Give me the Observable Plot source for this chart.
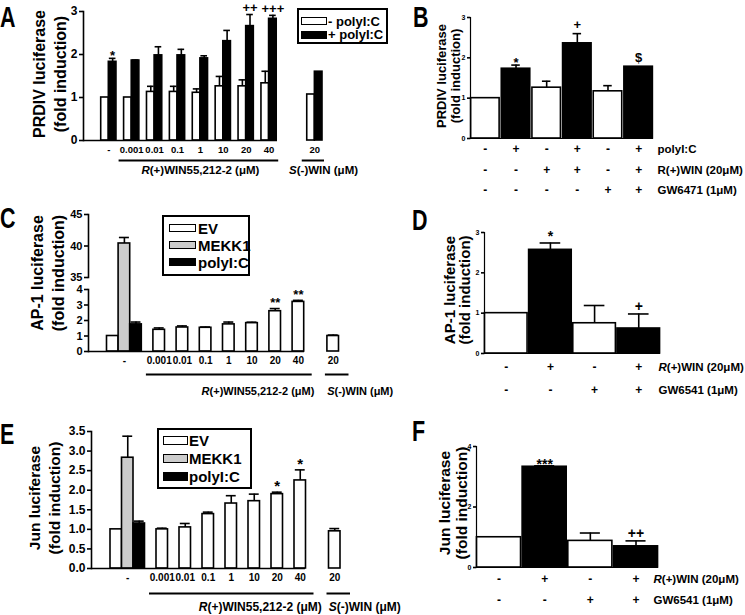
<!DOCTYPE html>
<html><head><meta charset="utf-8">
<script src="https://cdn.jsdelivr.net/npm/d3@7"></script>
<script src="https://cdn.jsdelivr.net/npm/@observablehq/plot@0.6"></script>
<style>
html,body{margin:0;padding:0;background:#fff;}
#fig{position:relative;width:745px;height:615px;overflow:hidden;background:#fff;font-family:'Liberation Sans',Arial,Helvetica,sans-serif;color:#000;}
.letter{position:absolute;font-weight:bold;font-size:29px;line-height:30px;transform:scaleX(0.74);transform-origin:0 0;}
.legend{position:absolute;border:2px solid #000;box-sizing:border-box;background:#fff;}
.legend .sw{position:absolute;border:1.5px solid #000;box-sizing:border-box;}
.legend .lb{position:absolute;font-weight:bold;white-space:nowrap;}
</style></head><body><div id="fig"></div>
<script>
// ================= DATA =================
// Panel A – PRDIV luciferase, R(+)WIN55,212-2 dose response
const A_doses = ["-", "0.001", "0.01", "0.1", "1", "10", "20", "40"];
const A_series = ["- polyI:C", "+ polyI:C"];
const A_minus = [1.00, 1.00, 1.13, 1.13, 1.11, 1.26, 1.26, 1.33];
const A_minusSem = [0, 0, 0.13, 0.13, 0.09, 0.23, 0.15, 0.28];
const A_plus = [1.83, 1.86, 1.98, 1.98, 1.91, 2.31, 2.66, 2.83];
const A_plusSem = [0.08, 0.01, 0.20, 0.14, 0.06, 0.25, 0.27, 0.08];
const A_plusSig = ["*", "", "", "", "", "", "++", "+++"];
const A_sDose = "20";
const A_sMinus = 1.07, A_sPlus = 1.60;
const A_ticks = [0, 1, 2, 3];

// Panel B – PRDIV luciferase with GW6471
const B_polyIC = ["-", "+", "-", "+", "-", "+"];
const B_win = ["-", "-", "+", "+", "-", "+"];
const B_gw = ["-", "-", "-", "-", "+", "+"];
const B_values = [1.00, 1.73, 1.26, 2.36, 1.17, 1.78];
const B_sem = [0, 0.09, 0.16, 0.24, 0.14, 0];
const B_sig = ["", "*", "", "+", "", "$"];
const B_rowLabels = ["polyI:C", "R(+)WIN (20μM)", "GW6471 (1μM)"];
const B_ticks = [0, 1, 2, 3];

// Panel C – AP-1 luciferase
const C_treat = ["EV", "MEKK1", "polyI:C"];
const C_ctrl = [1.00, 40.4, 1.75];
const C_ctrlSem = [0, 0.95, 0.15];
const C_doses = ["0.001", "0.01", "0.1", "1", "10", "20", "40"];
const C_dose = [1.40, 1.55, 1.53, 1.75, 1.83, 2.60, 3.20];
const C_doseSem = [0.12, 0.10, 0.05, 0.15, 0.06, 0.17, 0.10];
const C_doseSig = ["", "", "", "", "", "**", "**"];
const C_sDose = "20", C_s = 1.00, C_sSem = 0.06;
const C_ticks = [0, 1, 2, 3, 4, 35, 40, 45];
const C_yDomain = [0, 4, 35, 45];

// Panel D – AP-1 luciferase with GW6541
const D_win = ["-", "+", "-", "+"];
const D_gw = ["-", "-", "+", "+"];
const D_values = [1.00, 2.57, 0.75, 0.62];
const D_sem = [0, 0.17, 0.44, 0.36];
const D_sig = ["", "*", "", "+"];
const D_rowLabels = ["R(+)WIN (20μM)", "GW6541 (1μM)"];
const D_ticks = [0, 1, 2, 3];

// Panel E – Jun luciferase
const E_treat = ["EV", "MEKK1", "polyI:C"];
const E_ctrl = [1.00, 2.83, 1.15];
const E_ctrlSem = [0, 0.55, 0.06];
const E_doses = ["0.001", "0.01", "0.1", "1", "10", "20", "40"];
const E_dose = [1.00, 1.05, 1.39, 1.66, 1.72, 1.90, 2.25];
const E_doseSem = [0.03, 0.10, 0.05, 0.20, 0.18, 0.05, 0.27];
const E_doseSig = ["", "", "", "", "", "*", "*"];
const E_sDose = "20", E_s = 0.95, E_sSem = 0.07;
const E_ticks = [0, 0.5, 1, 1.5, 2, 2.5, 3, 3.5];

// Panel F – Jun luciferase with GW6541
const F_win = ["-", "+", "-", "+"];
const F_gw = ["-", "-", "+", "+"];
const F_values = [1.00, 3.33, 0.88, 0.70];
const F_sem = [0, 0.03, 0.26, 0.18];
const F_sig = ["", "***", "", "++"];
const F_rowLabels = ["R(+)WIN (20μM)", "GW6541 (1μM)"];
const F_ticks = [0, 2, 4];

const R_label = "R(+)WIN55,212-2 (μM)";
const S_label = "S(-)WIN (μM)";

// ================= HELPERS =================
const FONT = "'Liberation Sans', Arial, Helvetica, sans-serif";
const fig = document.getElementById("fig");
const SVGNS = "http://www.w3.org/2000/svg";
const SW = 1.6;
const INT = d3.format("d");

function place(node, left, top) {
  const d = document.createElement("div");
  d.style.position = "absolute"; d.style.left = left + "px"; d.style.top = top + "px";
  d.appendChild(node); fig.appendChild(d); return d;
}
function italicFirst(svg, list) {
  svg.querySelectorAll("text").forEach(t => {
    if (t.childElementCount === 0 && list.includes(t.textContent)) {
      const s = t.textContent; t.textContent = "";
      const a = document.createElementNS(SVGNS, "tspan"); a.setAttribute("font-style", "italic"); a.textContent = s[0];
      const b = document.createElementNS(SVGNS, "tspan"); b.textContent = s.slice(1);
      t.append(a, b);
    }
  });
}
function style() { return {fontFamily: FONT, fontWeight: "bold", background: "transparent", overflow: "visible", color: "black"}; }
function errMarks(rows, capInset) {
  const e = rows.filter(d => d.sem > 0);
  return [
    Plot.ruleX(e, {x: "key", y1: "value", y2: d => d.value + d.sem, stroke: "black", strokeWidth: SW}),
    Plot.tickY(e, {x: "key", y: d => d.value + d.sem, stroke: "black", strokeWidth: SW, insetLeft: capInset, insetRight: capInset})
  ];
}
// significance marks: asterisks sit high in the em box, so they get their own offset
function sigMarks(rows, fontSize, offStar, offPlus) {
  const star = rows.filter(d => d.sig && d.sig[0] === "*");
  const other = rows.filter(d => d.sig && d.sig[0] !== "*");
  return [
    Plot.text(star, {x: "key", y: d => d.value + d.sem, text: "sig", lineAnchor: "middle", dy: -offStar + 0.23 * fontSize, fontSize, fill: "black"}),
    Plot.text(other, {x: "key", y: d => d.value + d.sem, text: "sig", lineAnchor: "middle", dy: -offPlus, fontSize, fill: "black"})
  ];
}
function yTitle(text, fontSize, lineHeight, dx, dy) {
  return Plot.text([text], {text: d => d, frameAnchor: "left", rotate: -90, textAnchor: "middle", lineAnchor: "middle", fontSize, lineHeight, dx, dy, fill: "black"});
}
function yAxis(ticks, fontSize, tickSize, tickFormat) {
  return Plot.axisY({ticks, tickSize, tickPadding: 2, fontSize, label: null, strokeWidth: SW, tickFormat: tickFormat || INT});
}
function legend(left, top, w, h, labels, fills, o) {
  const box = document.createElement("div");
  box.className = "legend";
  Object.assign(box.style, {left: left + "px", top: top + "px", width: w + "px", height: h + "px"});
  labels.forEach((lab, i) => {
    const sw = document.createElement("div"); sw.className = "sw";
    Object.assign(sw.style, {left: o.swL + "px", top: (o.rows[i] - o.swH / 2) + "px", width: o.swW + "px", height: o.swH + "px", background: fills[i]});
    const lb = document.createElement("div"); lb.className = "lb"; lb.textContent = lab;
    Object.assign(lb.style, {left: o.txtL + "px", top: (o.rows[i] - o.fs * 0.5) + "px", fontSize: o.fs + "px", lineHeight: o.fs + "px"});
    box.append(sw, lb);
  });
  fig.appendChild(box);
}
function letter(ch, left, top) {
  const d = document.createElement("div"); d.className = "letter"; d.textContent = ch;
  d.style.left = left + "px"; d.style.top = top + "px"; fig.appendChild(d);
}

// ================= PANEL A =================
{
  const sKey = "S" + A_sDose;
  const keys = [];
  A_doses.forEach(d => keys.push(d + "|w", d + "|b", d + "|_"));
  keys.push("gap1", "gap2", "gap3", sKey + "|w", sKey + "|b");
  const rows = [];
  A_doses.forEach((d, i) => {
    rows.push({key: d + "|w", series: A_series[0], value: A_minus[i], sem: A_minusSem[i], sig: ""});
    rows.push({key: d + "|b", series: A_series[1], value: A_plus[i], sem: A_plusSem[i], sig: A_plusSig[i]});
  });
  rows.push({key: sKey + "|w", series: A_series[0], value: A_sMinus, sem: 0, sig: ""});
  rows.push({key: sKey + "|b", series: A_series[1], value: A_sPlus, sem: 0, sig: ""});
  const xr = [100.7, 322];
  const bw = (xr[1] - xr[0]) / keys.length;
  const labels = A_doses.map(d => ({k: d + "|b", t: d})).concat([{k: sKey + "|b", t: A_sDose}]);
  const svg = Plot.plot({
    width: 390, height: 200, marginLeft: 83, marginTop: 11, marginBottom: 60, marginRight: 113,
    style: style(),
    x: {type: "band", domain: keys, range: xr, paddingInner: 0, paddingOuter: 0, round: false, axis: null},
    y: {domain: [0, 3]},
    color: {type: "ordinal", domain: A_series, range: ["white", "black"]},
    marks: [
      Plot.barY(rows, {x: "key", y: "value", fill: "series", stroke: "black", strokeWidth: SW}),
      ...errMarks(rows, 0.5),
      ...sigMarks(rows, 13, 5.5, 6.5),
      Plot.frame({anchor: "left", strokeWidth: SW}),
      Plot.ruleY([0], {strokeWidth: SW}),
      yAxis(A_ticks, 12, 4),
      Plot.text(labels, {x: "k", text: "t", dx: -bw / 2, frameAnchor: "bottom", dy: 12, fontSize: 9.5}),
      Plot.ruleY([{a: "0.001|w", b: "40|b"}, {a: sKey + "|w", b: sKey + "|b"}], {y: () => 0, x1: "a", x2: "b", dy: 20, insetLeft: -5, insetRight: -2, strokeWidth: 2}),
      Plot.text([R_label], {x: () => "1|b", dx: -bw / 2, frameAnchor: "bottom", dy: 33, fontSize: 11.5}),
      Plot.text([S_label], {x: () => sKey + "|w", dx: -22, textAnchor: "start", frameAnchor: "bottom", dy: 33, fontSize: 11.5}),
      yTitle("PRDIV luciferase\n(fold induction)", 16, 1.35, -35, -2)
    ]
  });
  italicFirst(svg, [R_label, S_label]);
  place(svg, 0, 0);
  legend(297, 8, 91, 36, A_series, ["white", "black"], {rows: [11, 24.5], swL: 2, swW: 26, swH: 8, txtL: 29, fs: 13});
  letter("A", 0, 2);
}

// ================= PANEL B =================
{
  const ids = B_polyIC.map((p, i) => p + B_win[i] + B_gw[i]);
  const rows = ids.map((k, i) => ({key: k, poly: B_polyIC[i], value: B_values[i], sem: B_sem[i], sig: B_sig[i]}));
  const signRows = [B_polyIC, B_win, B_gw];
  const rowDy = [14, 35, 55];
  const marks = [
    Plot.barY(rows, {x: "key", y: "value", fill: "poly", stroke: "black", strokeWidth: SW}),
    ...errMarks(rows, 10),
    ...sigMarks(rows, 13, 5.6, 9),
    Plot.frame({anchor: "left", strokeWidth: 1.2}),
    Plot.ruleY([0], {strokeWidth: 1.2}),
    yAxis(B_ticks, 7, 3),
    yTitle("PRDIV luciferase\n(fold induction)", 13, 1.05, -22, -2)
  ];
  signRows.forEach((sr, r) => {
    marks.push(Plot.text(sr, {x: (d, j) => ids[j], text: d => d, frameAnchor: "bottom", dy: rowDy[r], fontSize: 12}));
    marks.push(Plot.text([B_rowLabels[r]], {text: d => d, frameAnchor: "bottom-right", textAnchor: "start", dx: 4, dy: rowDy[r], fontSize: 11.5}));
  });
  const svg = Plot.plot({
    width: 355, height: 200, marginLeft: 80, marginTop: 17, marginBottom: 62, marginRight: 92,
    style: style(),
    x: {type: "band", domain: ids, paddingInner: 0.07, paddingOuter: 0.02, round: false, axis: null},
    y: {domain: [0, 3]},
    color: {type: "ordinal", domain: ["-", "+"], range: ["white", "black"]},
    marks
  });
  place(svg, 390, 0);
  letter("B", 413, 2);
}

// ================= PANEL C / E builder =================
function doseResponse(cfg) {
  const sKey = "S" + cfg.sDose;
  const keys = cfg.treat.map(t => "-|" + t);
  keys.push("_a");
  cfg.doses.forEach(d => keys.push(d, "_" + d));
  keys.push("_b", sKey);
  const rows = cfg.treat.map((t, i) => ({key: "-|" + t, fill: t, value: cfg.ctrl[i], sem: cfg.ctrlSem[i], sig: ""}))
    .concat(cfg.doses.map((d, i) => ({key: d, fill: cfg.treat[0], value: cfg.dose[i], sem: cfg.doseSem[i], sig: cfg.doseSig[i]})))
    .concat([{key: sKey, fill: cfg.treat[0], value: cfg.s, sem: cfg.sSem, sig: ""}]);
  const labels = [{k: "-|" + cfg.treat[1], t: "-"}].concat(cfg.doses.map(d => ({k: d, t: d})), [{k: sKey, t: cfg.sDose}]);
  const frameMarks = cfg.yRange
    ? [Plot.frame({anchor: "left", strokeWidth: SW, insetTop: cfg.yRange[1] - cfg.yRange[3]}),
       Plot.frame({anchor: "left", strokeWidth: SW, insetBottom: cfg.yRange[0] - cfg.yRange[2]})]
    : [Plot.frame({anchor: "left", strokeWidth: SW})];
  const svg = Plot.plot({
    width: 390, height: cfg.height, marginLeft: cfg.ml, marginTop: cfg.mt, marginBottom: cfg.mb, marginRight: cfg.mr,
    style: style(),
    x: {type: "band", domain: keys, range: cfg.xr, paddingInner: 0, paddingOuter: 0, round: false, axis: null},
    y: cfg.yRange ? {type: "linear", domain: cfg.yDomain, range: cfg.yRange} : {domain: cfg.yDomain},
    color: {type: "ordinal", domain: cfg.treat, range: ["white", "#cccccc", "black"]},
    marks: [
      Plot.barY(rows, {x: "key", y: "value", fill: "fill", stroke: "black", strokeWidth: SW}),
      ...errMarks(rows, 0.8),
      ...sigMarks(rows, cfg.sigSize, cfg.sigOff, cfg.sigOff),
      ...frameMarks,
      Plot.ruleY([0], {strokeWidth: SW}),
      yAxis(cfg.ticks, cfg.tickSize, 4, cfg.tickFormat),
      Plot.text(labels, {x: "k", text: "t", frameAnchor: "bottom", dy: 12, fontSize: 10}),
      Plot.ruleY([{a: cfg.doses[0], b: cfg.doses[cfg.doses.length - 1]}], {y: () => 0, x1: "a", x2: "b", dy: cfg.ulDy, insetLeft: -7, insetRight: -8, strokeWidth: 2}),
      Plot.ruleY([{a: sKey, b: sKey}], {y: () => 0, x1: "a", x2: "b", dy: cfg.ulDy, insetLeft: -2, insetRight: -10, strokeWidth: 2}),
      Plot.text([R_label], {x: () => cfg.doses[4], dx: cfg.rDx, frameAnchor: "bottom", dy: cfg.glDy, fontSize: cfg.glSize}),
      Plot.text([S_label], {x: () => sKey, dx: -6, textAnchor: "start", frameAnchor: "bottom", dy: cfg.glDy, fontSize: cfg.glSize}),
      yTitle(cfg.title, cfg.titleSize, cfg.titleLH, cfg.titleDx, cfg.titleDy)
    ]
  });
  italicFirst(svg, [R_label, S_label]);
  return svg;
}

// ================= PANEL C =================
{
  const svg = doseResponse({
    treat: C_treat, ctrl: C_ctrl, ctrlSem: C_ctrlSem, doses: C_doses, dose: C_dose, doseSem: C_doseSem, doseSig: C_doseSig,
    sDose: C_sDose, s: C_s, sSem: C_sSem, ticks: C_ticks, yDomain: C_yDomain, yRange: [151, 89, 77, 14], tickSize: 11,
    height: 210, ml: 88, mt: 14, mb: 59, mr: 86, xr: [106.5, 338.5], sigSize: 13, sigOff: 9,
    ulDy: 23, glDy: 43, glSize: 11, rDx: 6,
    title: "AP-1 luciferase\n(fold induction)", titleSize: 16, titleLH: 1.35, titleDx: -42, titleDy: -10
  });
  place(svg, 0, 200);
  legend(162, 215, 88, 61, C_treat, ["white", "#cccccc", "black"], {rows: [11, 28, 45], swL: 5, swW: 27, swH: 8, txtL: 34, fs: 15});
  letter("C", 0, 203);
}

// ================= PANEL D / F builder =================
function inhibitorPanel(cfg) {
  const ids = cfg.win.map((w, i) => w + cfg.gw[i]);
  const rows = ids.map((k, i) => ({key: k, win: cfg.win[i], value: cfg.values[i], sem: cfg.sem[i], sig: cfg.sig[i]}));
  const signRows = [cfg.win, cfg.gw];
  const marks = [
    Plot.barY(rows, {x: "key", y: "value", fill: "win", stroke: "black", strokeWidth: SW}),
    ...errMarks(rows, cfg.capInset),
    ...sigMarks(rows, 14, cfg.offStar, cfg.offPlus),
    Plot.frame({anchor: "left", strokeWidth: 1.2}),
    Plot.ruleY([0], {strokeWidth: 1.2}),
    yAxis(cfg.ticks, 7, 3),
    yTitle(cfg.title, cfg.titleSize, cfg.titleLH, cfg.titleDx, cfg.titleDy)
  ];
  signRows.forEach((sr, r) => {
    marks.push(Plot.text(sr, {x: (d, j) => ids[j], text: d => d, frameAnchor: "bottom", dy: cfg.rowDy[r], fontSize: 12}));
    marks.push(Plot.text([cfg.rowLabels[r]], {text: d => d, frameAnchor: "bottom-right", textAnchor: "start", dx: cfg.labDx, dy: cfg.rowDy[r], fontSize: 11.5}));
  });
  const svg = Plot.plot({
    width: 355, height: cfg.height, marginLeft: cfg.ml, marginTop: cfg.mt, marginBottom: cfg.mb, marginRight: cfg.mr,
    style: style(),
    x: {type: "band", domain: ids, paddingInner: 0.035, paddingOuter: 0.01, round: false, axis: null},
    y: {domain: [0, cfg.ticks[cfg.ticks.length - 1]]},
    color: {type: "ordinal", domain: ["-", "+"], range: ["white", "black"]},
    marks
  });
  italicFirst(svg, [cfg.rowLabels[0]]);
  return svg;
}

// ================= PANEL D =================
{
  const svg = inhibitorPanel({
    win: D_win, gw: D_gw, values: D_values, sem: D_sem, sig: D_sig, rowLabels: D_rowLabels, ticks: D_ticks,
    height: 210, ml: 94, mt: 32, mb: 57, mr: 85, capInset: 11, rowDy: [17, 40], labDx: -2, offStar: 10, offPlus: 7.5,
    title: "AP-1 luciferase\n(fold induction)", titleSize: 15, titleLH: 1.05, titleDx: -27, titleDy: -3
  });
  place(svg, 390, 200);
  letter("D", 412, 205);
}

// ================= PANEL E =================
{
  const svg = doseResponse({
    treat: E_treat, ctrl: E_ctrl, ctrlSem: E_ctrlSem, doses: E_doses, dose: E_dose, doseSem: E_doseSem, doseSig: E_doseSig,
    sDose: E_sDose, s: E_s, sSem: E_sSem, ticks: E_ticks, yDomain: [0, 3.5], yRange: null, tickFormat: d3.format(".1f"), tickSize: 12,
    height: 205, ml: 91, mt: 21, mb: 47, mr: 85, xr: [110, 340], sigSize: 15, sigOff: 9.5,
    ulDy: 25, glDy: 42, glSize: 12, rDx: 6,
    title: "Jun luciferase\n(fold induction)", titleSize: 15.5, titleLH: 1.3, titleDx: -48, titleDy: -2
  });
  place(svg, 0, 410);
  legend(157, 428, 95, 61, E_treat, ["white", "#cccccc", "black"], {rows: [10, 28.5, 46], swL: 4, swW: 25, swH: 9, txtL: 30, fs: 15});
  letter("E", 0, 419);
}

// ================= PANEL F =================
{
  const svg = inhibitorPanel({
    win: F_win, gw: F_gw, values: F_values, sem: F_sem, sig: F_sig, rowLabels: F_rowLabels, ticks: F_ticks,
    height: 205, ml: 86, mt: 36, mb: 48, mr: 87, capInset: 12, rowDy: [15, 36], labDx: -5, offStar: 5, offPlus: 7,
    title: "Jun luciferase\n(fold induction)", titleSize: 15.5, titleLH: 1.1, titleDx: -23, titleDy: -4
  });
  place(svg, 390, 410);
  letter("F", 412, 416);
}
</script></body></html>
